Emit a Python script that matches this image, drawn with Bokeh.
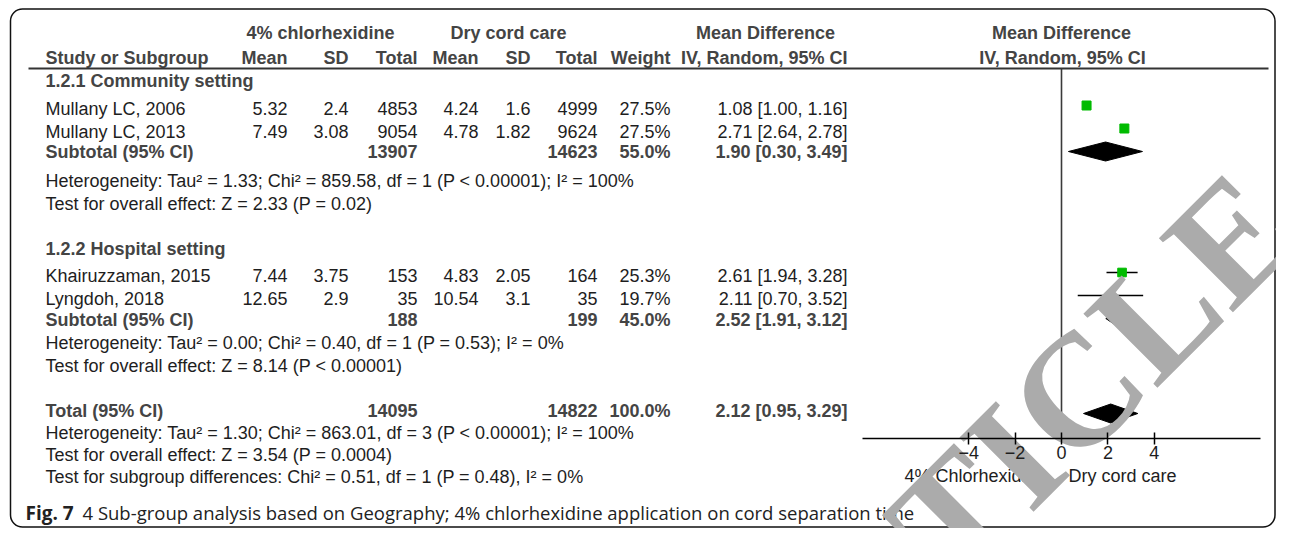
from bokeh.plotting import figure
from bokeh.models import Range1d, LinearAxis, FixedTicker
from bokeh.core.properties import value
from bokeh.embed import file_html
from bokeh.resources import INLINE

# ---------------- data ----------------
group_names = ["1.2.1 Community setting", "1.2.2 Hospital setting"]
studies = [["Mullany LC, 2006", "Mullany LC, 2013"], ["Khairuzzaman, 2015", "Lyngdoh, 2018"]]
exp_mean = [[5.32, 7.49], [7.44, 12.65]]
exp_sd = [[2.4, 3.08], [3.75, 2.9]]
exp_n = [[4853, 9054], [153, 35]]
ctl_mean = [[4.24, 4.78], [4.83, 10.54]]
ctl_sd = [[1.6, 1.82], [2.05, 3.1]]
ctl_n = [[4999, 9624], [164, 35]]
weight = [[27.5, 27.5], [25.3, 19.7]]
md = [[1.08, 2.71], [2.61, 2.11]]
md_lo = [[1.00, 2.64], [1.94, 0.70]]
md_hi = [[1.16, 2.78], [3.28, 3.52]]

sub_exp_n = [13907, 188]
sub_ctl_n = [14623, 199]
sub_weight = [55.0, 45.0]
sub_md = [1.90, 2.52]
sub_lo = [0.30, 1.91]
sub_hi = [3.49, 3.12]

tot_exp_n = 14095
tot_ctl_n = 14822
tot_weight = 100.0
tot_md = 2.12
tot_lo = 0.95
tot_hi = 3.29

het_text = ["Heterogeneity: Tau\u00b2 = 1.33; Chi\u00b2 = 859.58, df = 1 (P < 0.00001); I\u00b2 = 100%",
            "Heterogeneity: Tau\u00b2 = 0.00; Chi\u00b2 = 0.40, df = 1 (P = 0.53); I\u00b2 = 0%"]
test_text = ["Test for overall effect: Z = 2.33 (P = 0.02)",
             "Test for overall effect: Z = 8.14 (P < 0.00001)"]
tot_het_text = "Heterogeneity: Tau\u00b2 = 1.30; Chi\u00b2 = 863.01, df = 3 (P < 0.00001); I\u00b2 = 100%"
tot_test_text = "Test for overall effect: Z = 3.54 (P = 0.0004)"
subgroup_text = "Test for subgroup differences: Chi\u00b2 = 0.51, df = 1 (P = 0.48), I\u00b2 = 0%"

ticks = [-4, -2, 0, 2, 4]
favours = ["4% Chlorhexidine", "Dry cord care"]
caption_bold = "Fig. 7"
caption_rest = "4 Sub-group analysis based on Geography; 4% chlorhexidine application on cord separation time"
watermark = "ARTICLE"

# ---------------- layout ----------------
W, H = 1276, 528
ZERO_PX, PX_PER = 1061.0, 23.2
AX_L, AX_R = 862.0, 1260.0

FONT = value("Liberation Sans")
FS = "18px"
REG = "#1e1e1e"
BOLDC = "#444444"

p = figure(width=W, height=H, x_range=Range1d(0, W), y_range=Range1d(H, 0),
           x_axis_type=None, y_axis_type=None, toolbar_location=None,
           output_backend="svg", min_border=0)
p.outline_line_color = None
p.background_fill_color = "white"
p.extra_x_ranges = {"md": Range1d((0 - ZERO_PX) / PX_PER, (W - ZERO_PX) / PX_PER)}


def txt(x, y, s, align="left", bold=False, color=None, size=FS, font=FONT):
    p.text(x=[x], y=[y], text=[s], text_align=align, text_baseline="middle",
           text_font=font, text_font_size=size,
           text_font_style="bold" if bold else "normal",
           text_color=color or (BOLDC if bold else REG))


# border
p.quad(left=[10], right=[W - 1.5], top=[8.5], bottom=[H - 1.5], fill_color=None,
       line_color="#111111", line_width=1.5, border_radius=12)

# column positions (right edges)
X_LEFT = 45
C = [287, 348, 417, 478, 530, 597, 670, 847]

# header
txt(320, 32, "4% chlorhexidine", "center", True)
txt(508, 32, "Dry cord care", "center", True)
txt(765, 32, "Mean Difference", "center", True)
txt(1061, 32, "Mean Difference", "center", True)
txt(X_LEFT, 57, "Study or Subgroup", "left", True)
for x, s in zip(C, ["Mean", "SD", "Total", "Mean", "SD", "Total", "Weight", "IV, Random, 95% CI"]):
    txt(x, 57, s, "right", True)
txt(1062, 57, "IV, Random, 95% CI", "center", True)
p.segment(x0=[28], x1=[1268], y0=[68], y1=[68], line_color="#333333", line_width=2)

# rows
Y_G = [80, 248]
Y_S = [[108, 131], [275, 298]]
Y_SUB = [151, 319]
Y_HET = [180, 342]
Y_TEST = [203, 365]
FY_S = [[105, 128], [272, 295]]
FY_SUB = [151, 318]
Y_TOT, FY_TOT = 410, 413
Y_TH, Y_TT, Y_SG = 432, 454, 476
Y_AX = 438
Y_FAV = 475
Y_CAP = 512
DIA_H = 9.5

sq_x, sq_y, sq_s, ci_x0, ci_x1, ci_y = [], [], [], [], [], []
for g in range(2):
    txt(X_LEFT, Y_G[g], group_names[g], "left", True)
    for i in range(len(studies[g])):
        y = Y_S[g][i]
        txt(X_LEFT, y, studies[g][i])
        vals = [f"{exp_mean[g][i]:g}", f"{exp_sd[g][i]:g}", f"{exp_n[g][i]}",
                f"{ctl_mean[g][i]:g}", f"{ctl_sd[g][i]:g}", f"{ctl_n[g][i]}",
                f"{weight[g][i]:.1f}%",
                f"{md[g][i]:.2f} [{md_lo[g][i]:.2f}, {md_hi[g][i]:.2f}]"]
        for x, s in zip(C, vals):
            txt(x, y, s, "right")
        sq_x.append(md[g][i]); sq_y.append(FY_S[g][i])
        sq_s.append(9.0 * (weight[g][i] / 27.5) ** 0.5)
        ci_x0.append(md_lo[g][i]); ci_x1.append(md_hi[g][i]); ci_y.append(FY_S[g][i])
    ys = Y_SUB[g]
    txt(X_LEFT, ys, "Subtotal (95% CI)", "left", True)
    txt(C[2], ys, f"{sub_exp_n[g]}", "right", True)
    txt(C[5], ys, f"{sub_ctl_n[g]}", "right", True)
    txt(C[6], ys, f"{sub_weight[g]:.1f}%", "right", True)
    txt(C[7], ys, f"{sub_md[g]:.2f} [{sub_lo[g]:.2f}, {sub_hi[g]:.2f}]", "right", True)
    txt(X_LEFT, Y_HET[g], het_text[g])
    txt(X_LEFT, Y_TEST[g], test_text[g])

txt(X_LEFT, Y_TOT, "Total (95% CI)", "left", True)
txt(C[2], Y_TOT, f"{tot_exp_n}", "right", True)
txt(C[5], Y_TOT, f"{tot_ctl_n}", "right", True)
txt(C[6], Y_TOT, f"{tot_weight:.1f}%", "right", True)
txt(C[7], Y_TOT, f"{tot_md:.2f} [{tot_lo:.2f}, {tot_hi:.2f}]", "right", True)
txt(X_LEFT, Y_TH, tot_het_text)
txt(X_LEFT, Y_TT, tot_test_text)
txt(X_LEFT, Y_SG, subgroup_text)

# forest panel
p.segment(x0=[0], x1=[0], y0=[68], y1=[Y_AX], x_range_name="md",
          line_color="#3a3a3a", line_width=1.6)
p.segment(x0=ci_x0, x1=ci_x1, y0=ci_y, y1=ci_y, x_range_name="md",
          line_color="black", line_width=1.5)
p.scatter(x=sq_x, y=sq_y, size=sq_s, marker="square", x_range_name="md",
          fill_color="#00bb00", line_color="#00bb00")
d_lo = sub_lo + [tot_lo]
d_md = sub_md + [tot_md]
d_hi = sub_hi + [tot_hi]
d_y = FY_SUB + [FY_TOT]
p.patches(xs=[[a, b, c, b] for a, b, c in zip(d_lo, d_md, d_hi)],
          ys=[[y, y - DIA_H, y, y + DIA_H] for y in d_y], x_range_name="md",
          fill_color="black", line_color="black", line_width=1)

ax = LinearAxis(x_range_name="md", fixed_location=Y_AX, ticker=FixedTicker(ticks=ticks),
                bounds=((AX_L - ZERO_PX) / PX_PER, (AX_R - ZERO_PX) / PX_PER))
ax.major_tick_in = 6
ax.major_tick_out = 6
ax.minor_tick_in = 0
ax.minor_tick_out = 0
ax.axis_line_width = 1.5
ax.axis_line_color = "black"
ax.major_tick_line_width = 1.5
ax.major_tick_line_color = "black"
ax.major_label_text_font = "Liberation Sans"
ax.major_label_text_font_size = FS
ax.major_label_text_color = REG
ax.major_label_standoff = 1
p.add_layout(ax, "below")

txt(1045, Y_FAV, favours[0], "right")
txt(1068, Y_FAV, favours[1], "left")

# caption
p.text(x=[25], y=[Y_CAP], text=[caption_bold], text_align="left", text_baseline="middle",
       text_font=value("Open Sans"), text_font_size="19px", text_font_style="bold", text_color="#222222")
p.text(x=[82], y=[Y_CAP], text=[caption_rest], text_align="left", text_baseline="middle",
       text_font=value("Open Sans"), text_font_size="18.5px", text_color="#222222")

# watermark
p.text(x=[1012], y=[456], text=[watermark], angle=45, angle_units="deg",
       text_align="center", text_baseline="middle", text_font=value("Liberation Serif"),
       text_font_size="160px", text_font_style="bold", text_color="#ababab")

open("out.html", "w").write(file_html(p, INLINE))
